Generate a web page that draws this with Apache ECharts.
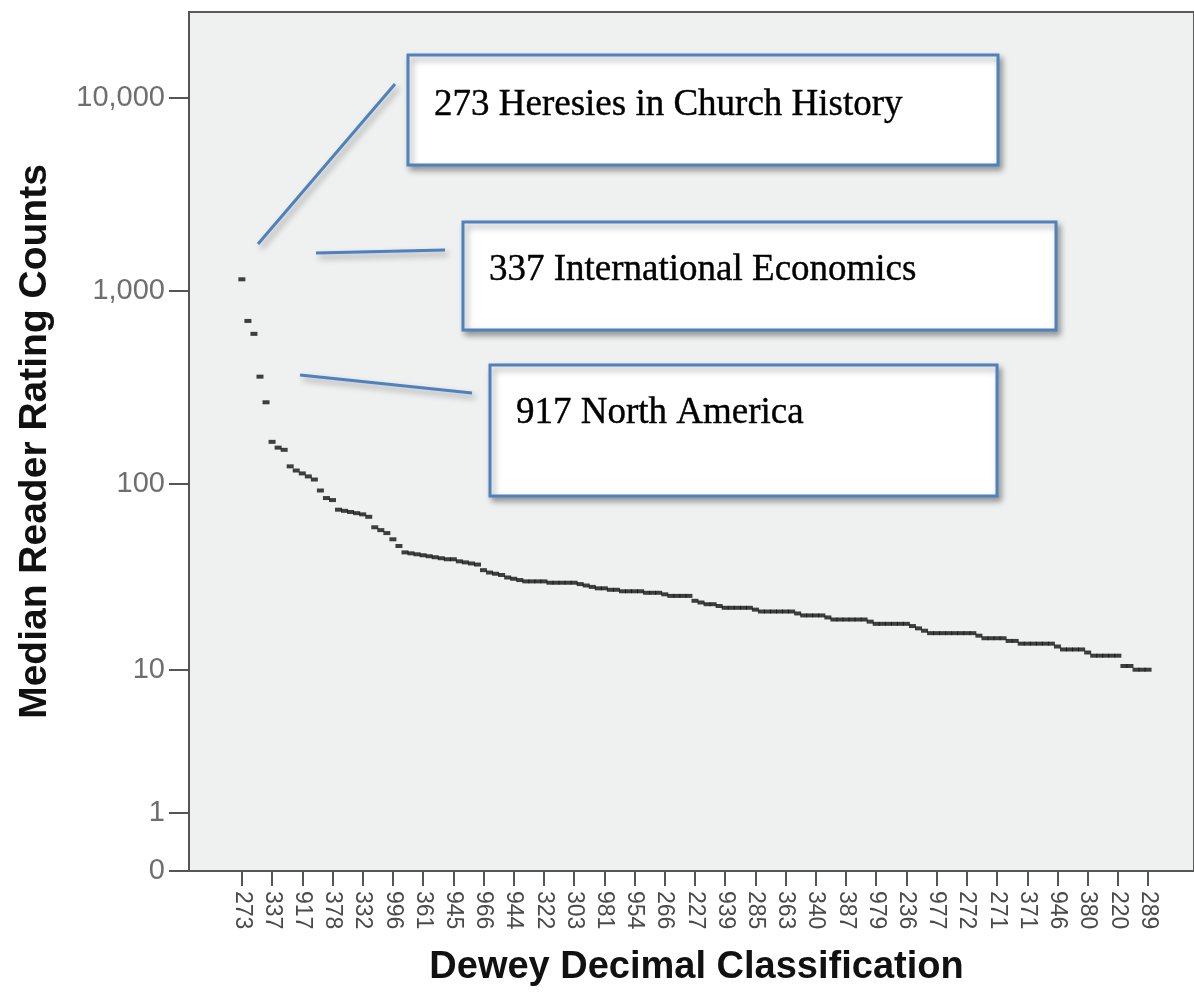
<!DOCTYPE html>
<html>
<head>
<meta charset="utf-8">
<title>Median Reader Rating Counts by Dewey Decimal Classification</title>
<script src="https://cdn.jsdelivr.net/npm/echarts@6.0.0/dist/echarts.min.js"></script>
<style>
  html, body { margin: 0; padding: 0; background: #ffffff; }
  #chart { width: 1194px; height: 992px; }
</style>
</head>
<body>
<div id="chart"></div>
<script>
// Etiquetas visíveis do eixo X (uma a cada 5 classes)
const tickLabels = ['273', '337', '917', '378', '332', '996', '361', '945', '966', '944',
    '322', '303', '981', '954', '266', '227', '939', '285', '363', '340',
    '387', '979', '236', '977', '272', '271', '371', '946', '380', '220', '289'];
const labelEvery = 5;

// Mediana de avaliações por classe (ordenadas)
const medianCounts = [
    1150, 700, 600, 360, 265, 165, 154, 150, 123, 117,
    113, 109, 105, 92, 84, 82, 73, 72, 71, 70,
    69, 67, 59, 57, 55, 51, 47, 43.5, 43, 42.5,
    42, 41.5, 41, 40.5, 40, 40, 39, 38.5, 38, 37.5,
    35, 34, 33.5, 33, 32, 31.5, 31, 30.5, 30.5, 30.5,
    30.5, 30, 30, 30, 30, 30, 29.5, 29, 28.5, 28,
    28, 27.5, 27.5, 27, 27, 27, 27, 26.5, 26.5, 26.5,
    26, 25.5, 25.5, 25.5, 25.5, 24, 23.5, 23, 23, 22.5,
    22, 22, 22, 22, 22, 21.5, 21, 21, 21, 21,
    21, 21, 20.5, 20, 20, 20, 20, 19.5, 19, 19,
    19, 19, 19, 19, 18.5, 18, 18, 18, 18, 18,
    18, 17.5, 17, 16.5, 16, 16, 16, 16, 16, 16,
    16, 16, 15.5, 15, 15, 15, 15, 14.5, 14.5, 14,
    14, 14, 14, 14, 14, 13.5, 13, 13, 13, 13,
    12.5, 12, 12, 12, 12, 12, 10.5, 10.5, 10, 10,
    10
];

// Marcas do eixo Y (escala log(x+1), como no SPSS)
const yTickValues = [0, 1, 10, 100, 1000, 10000];

// Anotações
const notes = [
    '273 Heresies in Church History',
    '337 International Economics',
    '917 North America'
];

const toLog = v => Math.log10(v + 1);
const fromLog = v => Math.round(Math.pow(10, v) - 1);

const pontos = medianCounts.map((v, i) => [i, toLog(v)]);
const xTicks = tickLabels.map((_, i) => i * labelEvery);

const chart = echarts.init(document.getElementById('chart'));

const blue = '#4f81bd';
const shadow = { shadowBlur: 6, shadowOffsetX: 3, shadowOffsetY: 4, shadowColor: 'rgba(0,0,0,0.35)' };

function caixa(x, y, w, h, texto, ty) {
    return [
        {
            type: 'rect',
            shape: { x: x, y: y, width: w, height: h },
            style: Object.assign({ fill: '#ffffff', stroke: blue, lineWidth: 3 }, shadow),
            z: 10
        },
        {
            type: 'text',
            x: x + 26,
            y: ty,
            style: {
                text: texto,
                font: '37px "Liberation Serif", "DejaVu Serif", serif',
                fill: '#000000',
                stroke: '#000000',
                lineWidth: 0.4,
                textVerticalAlign: 'middle'
            },
            z: 11
        }
    ];
}

function linha(x1, y1, x2, y2) {
    return {
        type: 'line',
        shape: { x1: x1, y1: y1, x2: x2, y2: y2 },
        style: Object.assign({ stroke: blue, lineWidth: 3 }, shadow),
        z: 9
    };
}

const option = {
    backgroundColor: '#ffffff',
    animation: false,
    grid: {
        left: 189,
        right: -3,
        top: 12,
        bottom: 120,
        show: true,
        backgroundColor: '#eff0f0',
        borderColor: '#5a5a5a',
        borderWidth: 2
    },
    xAxis: {
        type: 'value',
        min: -8.75,
        max: 157.6,
        name: 'Dewey Decimal Classification',
        nameLocation: 'middle',
        nameGap: 78,
        nameTextStyle: {
            fontFamily: '"Liberation Sans", Arial, sans-serif',
            fontSize: 38,
            fontWeight: 'bold',
            color: '#111111',
            padding: [0, 0, 0, 10]
        },
        axisLine: { show: true, onZero: false, lineStyle: { color: '#555555', width: 2 } },
        axisTick: {
            show: true,
            customValues: xTicks,
            length: 15,
            lineStyle: { color: '#555555', width: 2 }
        },
        axisLabel: {
            customValues: xTicks,
            rotate: -90,
            margin: 20,
            fontFamily: '"Liberation Sans", Arial, sans-serif',
            fontSize: 23,
            color: '#4a4a4a',
            formatter: v => tickLabels[Math.round(v / labelEvery)]
        },
        splitLine: { show: false }
    },
    yAxis: {
        type: 'value',
        min: 0,
        max: 4.444,
        name: 'Median Reader Rating Counts',
        nameLocation: 'middle',
        nameGap: 134,
        nameTextStyle: {
            fontFamily: '"Liberation Sans", Arial, sans-serif',
            fontSize: 39,
            fontWeight: 'bold',
            color: '#111111'
        },
        axisLine: { show: true, onZero: false, lineStyle: { color: '#555555', width: 2 } },
        axisTick: {
            show: true,
            customValues: yTickValues.map(toLog),
            length: 20,
            lineStyle: { color: '#555555', width: 2 }
        },
        axisLabel: {
            customValues: yTickValues.map(toLog),
            margin: 24,
            fontFamily: '"Liberation Sans", Arial, sans-serif',
            fontSize: 29,
            color: '#6e6e6e',
            formatter: v => fromLog(v).toLocaleString('en-US')
        },
        splitLine: { show: false }
    },
    series: [
        {
            name: 'Median',
            type: 'scatter',
            data: pontos,
            symbol: 'rect',
            symbolSize: [7, 4],
            itemStyle: { color: '#111111' },
            z: 3
        }
    ],
    graphic: [
        linha(395, 84, 258, 244),
        linha(445, 250, 316, 253),
        linha(300, 375, 472, 393),
        ...caixa(408, 55, 590, 110, notes[0], 105),
        ...caixa(463, 222, 593, 108, notes[1], 270),
        ...caixa(490, 365, 507, 131, notes[2], 413)
    ]
};

chart.setOption(option);

window.addEventListener('resize', function() {
    chart.resize();
});
</script>
</body>
</html>
